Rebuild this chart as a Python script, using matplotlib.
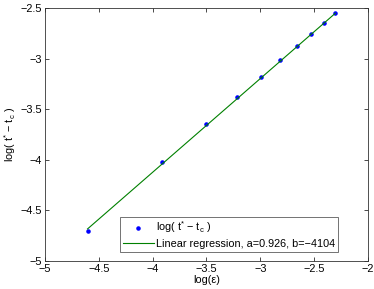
import numpy as np
import matplotlib
matplotlib.use('Agg')
import matplotlib.pyplot as plt

plt.rcParams['font.family'] = ['Liberation Sans', 'DejaVu Sans']
plt.rcParams['mathtext.fontset'] = 'custom'
plt.rcParams['mathtext.rm'] = 'Liberation Sans'
plt.rcParams['mathtext.it'] = 'Liberation Sans'

# data
log_eps = [-4.605, -3.912, -3.507, -3.219, -2.996, -2.813, -2.659, -2.526, -2.408, -2.303]
log_dt = [-4.707, -4.022, -3.646, -3.379, -3.179, -3.014, -2.873, -2.754, -2.648, -2.552]
fit_a = 0.926
fit_c = -0.419
fit_x = [-4.605, -2.303]
fit_y = [fit_a * v + fit_c for v in fit_x]

fs = 7.8
lab = r'log( t$^{*}$ $-$ t$_{\rm c}$ )'

fig = plt.figure(figsize=(3.74, 2.89), dpi=100)
ax = fig.add_axes([45/374, 1 - 261/289, 323/374, 253/289])

ax.plot(log_eps, log_dt, '.', color='blue', markersize=4.5, label=lab)
ax.plot(fit_x, fit_y, '-', color=(0, 0.5, 0), linewidth=0.8,
        label='Linear regression, a=0.926, b=\u22124104')

ax.set_xlim(-5, -2)
ax.set_ylim(-5, -2.5)
ax.set_xticks([-5, -4.5, -4, -3.5, -3, -2.5, -2])
ax.set_yticks([-5, -4.5, -4, -3.5, -3, -2.5])
ax.set_xticklabels(['\u22125', '\u22124.5', '\u22124', '\u22123.5', '\u22123', '\u22122.5', '\u22122'])
ax.set_yticklabels(['\u22125', '\u22124.5', '\u22124', '\u22123.5', '\u22123', '\u22122.5'])
ax.tick_params(direction='in', top=True, right=True, labelsize=fs, length=3, width=0.5, pad=2)
for s in ax.spines.values():
    s.set_linewidth(0.6)
    s.set_color('#333333')

ax.set_xlabel('log(\u03b5)', fontsize=fs, labelpad=1)
ax.set_ylabel(lab, fontsize=fs, labelpad=2)

leg = ax.legend(loc='lower left', bbox_to_anchor=(0.232, 0.036),
                fontsize=fs, frameon=True, fancybox=False, borderpad=0.25, borderaxespad=0,
                handlelength=2.9, handletextpad=0.2, labelspacing=0.35)
leg.get_frame().set_edgecolor('#333333')
leg.get_frame().set_linewidth(0.6)

plt.savefig('out.png', dpi=100)
